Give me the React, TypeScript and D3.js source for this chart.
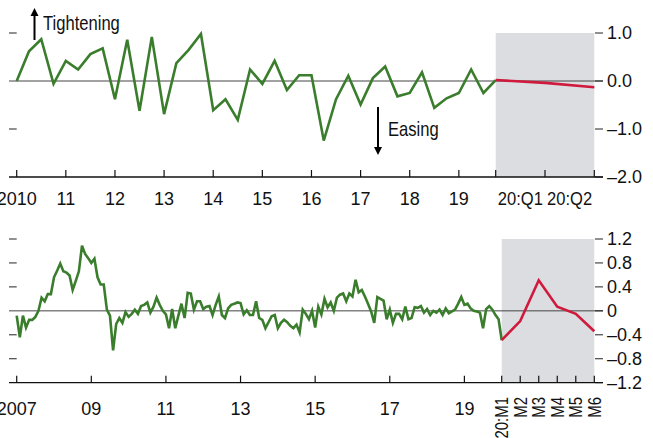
import * as d3 from 'd3';

// quarterly, 2010:Q1 - 2019:Q4
const quarterly = [
  0.0, 0.62, 0.87, -0.06, 0.42, 0.24, 0.56, 0.68, -0.38, 0.86,
  -0.62, 0.92, -0.69, 0.37, 0.65, 0.98, -0.61, -0.38, -0.81, 0.24,
  -0.06, 0.42, -0.19, 0.12, 0.12, -1.24, -0.38, 0.11, -0.49, 0.06,
  0.3, -0.32, -0.25, 0.18, -0.56, -0.36, -0.25, 0.24, -0.25, 0.02,
];
// projection 2019:Q4 -> 20:Q2
const quarterlyProj = [0.02, -0.04, -0.13];
const topYearLabels = ['2010', '11', '12', '13', '14', '15', '16', '17', '18', '19'];
const topProjLabels = ['20:Q1', '20:Q2'];
const topYTicks = [1.0, 0.0, -1.0, -2.0];

// monthly, 2007:M1 - 2020:M1
const monthly = [
  -0.08, -0.44, -0.08, -0.28, -0.15, -0.15, -0.1, 0.0, 0.22, 0.16,
  0.28, 0.28, 0.56, 0.67, 0.79, 0.66, 0.64, 0.59, 0.35, 0.5,
  0.66, 1.09, 0.95, 0.88, 0.8, 0.87, 0.56, 0.44, 0.44, 0.02,
  -0.08, -0.66, -0.22, -0.12, -0.2, -0.02, -0.1, -0.05, 0.02, -0.05,
  0.08, 0.1, 0.14, -0.03, 0.07, 0.22, 0.1, 0.0, -0.06, -0.29,
  0.03, -0.29, -0.08, 0.12, -0.12, 0.3, 0.29, 0.02, 0.16, 0.16,
  0.03, 0.07, 0.08, -0.07, 0.1, 0.24, -0.07, -0.12, 0.04, 0.1,
  0.12, 0.14, 0.13, -0.06, 0.01, -0.07, -0.07, 0.16, -0.12, -0.15,
  -0.29, -0.19, -0.09, -0.07, -0.29, -0.2, -0.15, -0.19, -0.25, -0.29,
  -0.23, -0.36, 0.02, -0.05, -0.14, 0.0, -0.28, 0.07, -0.06, 0.2,
  0.06, 0.14, 0.0, 0.22, 0.27, 0.29, 0.16, 0.29, 0.24, 0.52,
  0.31, 0.35, 0.24, 0.12, -0.01, -0.2, 0.23, 0.2, 0.17, -0.14,
  0.02, -0.2, -0.05, -0.05, -0.14, 0.07, -0.14, -0.12, 0.06, 0.05,
  0.08, -0.03, 0.03, -0.07, 0.0, -0.03, 0.02, -0.07, 0.04, -0.04,
  -0.01, 0.02, 0.12, 0.23, 0.1, 0.12, 0.04, 0.0, -0.01, -0.03,
  -0.29, 0.03, 0.08, 0.02, -0.07, -0.14, -0.49,
];
// projection 20:M1 - M6
const monthlyProj = [-0.49, -0.17, 0.51, 0.07, -0.05, -0.34];
const botYearLabels = ['2007', '09', '11', '13', '15', '17', '19'];
const botProjLabels = ['20:M1', 'M2', 'M3', 'M4', 'M5', 'M6'];
const botYTicks = [1.2, 0.8, 0.4, 0, -0.4, -0.8, -1.2];

const GREEN = '#3a7d2c';
const RED = '#cf1a3d';
const SHADE = '#dcdde0';
const FONT = "'Liberation Sans', Arial, sans-serif";
const NARROW = 0.83; // no condensed face installed, squeeze horizontally

const fmt = (v: number, digits: number) => {
  const s = v === 0 ? (digits ? (0).toFixed(digits) : '0') : Math.abs(v).toFixed(digits);
  return v < 0 ? '\u2013' + s : s;
};

const AX_L = 9;
const AX_R = 603;
const TICK_IN = 595;

function Txt({ x, y, children, size = 18, sx = 1, anchor = 'start', rotate = 0, dy }: {
  x: number; y: number; children: string; size?: number; sx?: number;
  anchor?: string; rotate?: number; dy?: string;
}) {
  return (
    <text transform={`translate(${x},${y}) rotate(${rotate}) scale(${sx},1)`} dy={dy}
      textAnchor={anchor} fontSize={size} fontFamily={FONT} fill="#111">
      {children}
    </text>
  );
}

function Panel({
  values, proj, x, y, yTicks, leftTicks, projStart,
}: {
  values: number[]; proj: number[]; x: d3.ScaleLinear<number, number>;
  y: d3.ScaleLinear<number, number>; yTicks: number[]; leftTicks: number[]; projStart: number;
}) {
  const line = d3.line<number>().x((_, i) => x(i)).y((d) => y(d));
  const projLine = d3.line<number>().x((_, i) => x(projStart + i)).y((d) => y(d));
  const [yMin, yMax] = y.domain();
  const xEnd = x.domain()[x.domain().length - 1];
  return (
    <g>
      <rect x={x(projStart)} y={y(yMax)} width={x(xEnd) - x(projStart)}
        height={y(yMin) - y(yMax)} fill={SHADE} />
      <line x1={AX_L} x2={AX_R} y1={y(0)} y2={y(0)} stroke="#444" strokeWidth={1} />
      {leftTicks.map((t) => (
        <line key={'l' + t} x1={AX_L} x2={x(0)} y1={y(t)} y2={y(t)} stroke="#222" strokeWidth={1} />
      ))}
      {yTicks.map((t) => (
        <g key={'r' + t}>
          <line x1={TICK_IN} x2={AX_R} y1={y(t)} y2={y(t)} stroke="#222" strokeWidth={1} />
          <Txt x={607} y={y(t)} dy="0.36em">{fmt(t, t === 0 && yTicks.length > 4 ? 0 : 1)}</Txt>
        </g>
      ))}
      <line x1={AX_L} x2={AX_R} y1={y(yMin)} y2={y(yMin)} stroke="#111" strokeWidth={1.3} />
      <path d={line(values) ?? ''} fill="none" stroke={GREEN} strokeWidth={2.6} />
      <path d={projLine(proj) ?? ''} fill="none" stroke={RED} strokeWidth={2.6} />
    </g>
  );
}

function XTicks({ positions, y0 }: { positions: number[]; y0: number }) {
  return (
    <g>
      {positions.map((px, i) => (
        <line key={i} x1={px} x2={px} y1={y0} y2={y0 - 7} stroke="#111" strokeWidth={1.2} />
      ))}
    </g>
  );
}

export default function App() {
  const width = 653;
  const height = 438;

  // top panel: quarterly index, projection quarters are drawn wider
  const xTop = d3.scaleLinear().domain([0, 39, 41]).range([16.7, 495.7, 594.3]);
  const yTop = d3.scaleLinear().domain([-2, 1]).range([177, 33]);

  // bottom panel: monthly index, projection months are drawn wider
  const xBot = d3.scaleLinear().domain([0, 156, 161]).range([16.7, 501.7, 594.3]);
  const yBot = d3.scaleLinear().domain([-1.2, 1.2]).range([382.7, 239]);

  const topTickIdx = [...topYearLabels.map((_, i) => i * 4), 39, 40, 41];
  const botTickIdx = [...botYearLabels.map((_, i) => i * 24), 156, 157, 158, 159, 160, 161];

  return (
    <svg width={width} height={height} style={{ position: 'absolute', left: 0, top: 0, display: 'block' }}>
      <rect width={width} height={height} fill="#fff" />

      <Panel values={quarterly} proj={quarterlyProj} x={xTop} y={yTop}
        yTicks={topYTicks} leftTicks={[1, -1]} projStart={39} />
      <XTicks positions={topTickIdx.map((i) => xTop(i))} y0={yTop(-2)} />
      {topYearLabels.map((l, i) => (
        <Txt key={l} x={xTop(i * 4)} y={205} anchor="middle">{l}</Txt>
      ))}
      {topProjLabels.map((l, i) => (
        <Txt key={l} x={xTop(39.5 + i)} y={205} anchor="middle" sx={0.92}>{l}</Txt>
      ))}

      <Panel values={monthly} proj={monthlyProj} x={xBot} y={yBot}
        yTicks={botYTicks} leftTicks={[1.2, 0.8, 0.4, -0.4, -0.8]} projStart={156} />
      <XTicks positions={botTickIdx.map((i) => xBot(i))} y0={yBot(-1.2)} />
      {botYearLabels.map((l, i) => (
        <Txt key={l} x={xBot(i * 24)} y={415} anchor="middle">{l}</Txt>
      ))}
      {botProjLabels.map((l, i) => (
        <Txt key={l} x={xBot(156 + i) + 6.5} y={397} anchor="end" rotate={-90} sx={NARROW}>{l}</Txt>
      ))}

      {/* annotations */}
      <defs>
        <marker id="ah" viewBox="0 0 10 10" refX="5" refY="5" markerWidth="4" markerHeight="4.5" orient="auto">
          <path d="M0,0 L10,5 L0,10 z" fill="#000" />
        </marker>
      </defs>
      <line x1={34.5} x2={34.5} y1={40} y2={12} stroke="#000" strokeWidth={2} markerEnd="url(#ah)" />
      <Txt x={43} y={30} size={20} sx={NARROW}>Tightening</Txt>
      <line x1={378} x2={378} y1={107} y2={151} stroke="#000" strokeWidth={2} markerEnd="url(#ah)" />
      <Txt x={388} y={136} size={20} sx={NARROW}>Easing</Txt>
    </svg>
  );
}
